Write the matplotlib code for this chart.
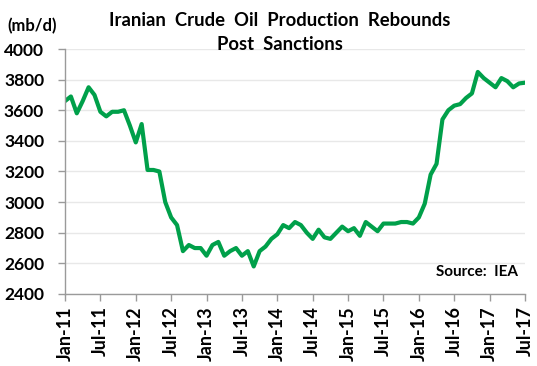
import matplotlib
matplotlib.use("Agg")
import matplotlib.pyplot as plt
import numpy as np

tick_labels = ["Jan-11", "Jul-11", "Jan-12", "Jul-12", "Jan-13", "Jul-13", "Jan-14",
               "Jul-14", "Jan-15", "Jul-15", "Jan-16", "Jul-16", "Jan-17", "Jul-17"]

production = [3660, 3690, 3580, 3660, 3750, 3700, 3590, 3560, 3590, 3590, 3600, 3500,
              3390, 3510, 3210, 3210, 3200, 3000, 2900, 2850, 2680, 2720, 2700, 2700,
              2650, 2720, 2740, 2650, 2680, 2700, 2650, 2680, 2580, 2680, 2710, 2760,
              2790, 2850, 2830, 2870, 2850, 2800, 2760, 2820, 2770, 2760, 2800, 2840,
              2810, 2830, 2780, 2870, 2840, 2810, 2860, 2860, 2860, 2870, 2870, 2860,
              2900, 2990, 3180, 3250, 3540, 3600, 3630, 3640, 3680, 3710, 3850, 3810,
              3780, 3750, 3810, 3790, 3750, 3775, 3780]

plt.rcParams['font.family'] = ['Lato', 'DejaVu Sans']

fig = plt.figure(figsize=(5.37, 3.66), dpi=100)
ax = fig.add_axes([65/537, 1 - 294/366, (525-65)/537, (294-49)/366])

x = np.arange(len(production))
ax.plot(x, production, color='#00A04A', linewidth=3.0, solid_joinstyle='round')

ax.set_xlim(0, len(production) - 1)
ax.set_ylim(2400, 4000)
ax.set_yticks(np.arange(2400, 4001, 200))
ax.set_xticks(np.arange(0, len(production), 6))
ax.set_xticklabels(tick_labels, rotation=90, fontweight='bold', fontsize=13)
for lab in ax.get_yticklabels():
    lab.set_fontweight('bold')
    lab.set_fontsize(12.5)

ax.grid(axis='y', color='#e8e8e8', linewidth=1)
ax.set_axisbelow(True)
for s in ['top', 'right']:
    ax.spines[s].set_visible(False)
for s in ['left', 'bottom']:
    ax.spines[s].set_color('#9a9a9a')
    ax.spines[s].set_linewidth(1)
ax.tick_params(axis='both', color='#9a9a9a', length=5, width=1, direction='out')
ax.tick_params(axis='y', pad=10)
ax.tick_params(axis='x', pad=4)

fig.text(280/537, 1 - 21/366, "Iranian  Crude  Oil  Production  Rebounds", ha='center', va='center',
         fontweight='bold', fontsize=13.3)
fig.text(280/537, 1 - 45/366, "Post  Sanctions", ha='center', va='center',
         fontweight='bold', fontsize=13.3)
fig.text(7/537, 1 - 26/366, "(mb/d)", ha='left', va='center', fontweight='bold', fontsize=12)
ax.text(0.985, 0.09, "Source:  IEA", transform=ax.transAxes, ha='right', va='center',
        fontweight='bold', fontsize=11)

fig.savefig("out.png", dpi=100)
